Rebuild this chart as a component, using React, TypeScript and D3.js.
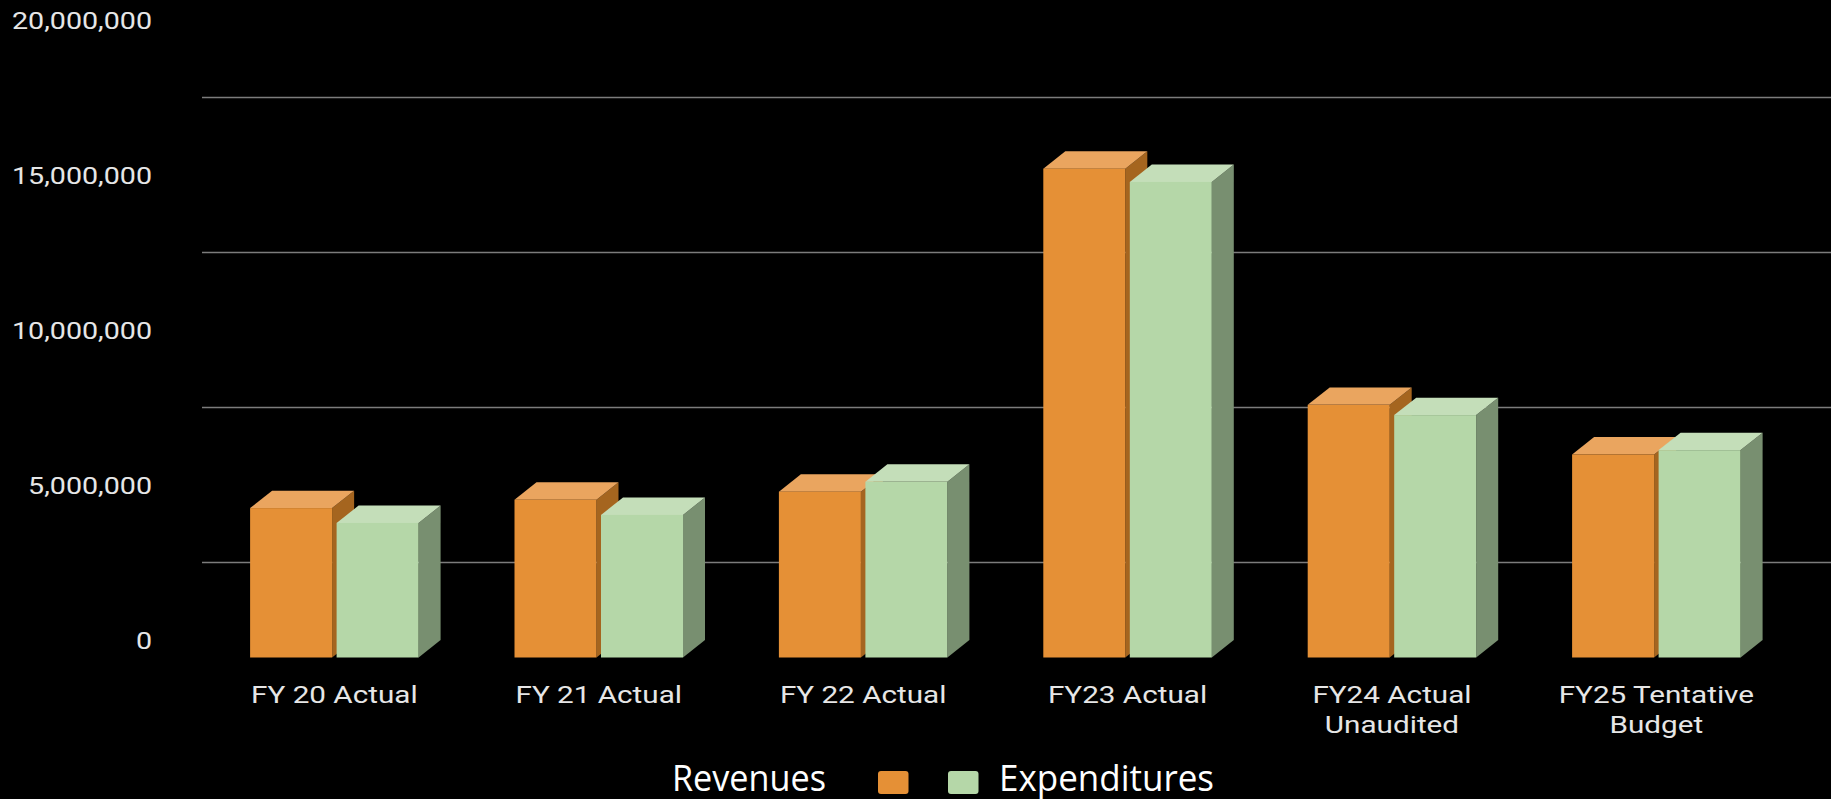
import React from "react";
import * as d3 from "d3";

const categories = [
  ["FY 20 Actual"],
  ["FY 21 Actual"],
  ["FY 22 Actual"],
  ["FY23 Actual"],
  ["FY24 Actual", "Unaudited"],
  ["FY25 Tentative", "Budget"],
];
const revenues = [4820000, 5090000, 5350000, 15770000, 8150000, 6550000];
const expenditures = [4340000, 4600000, 5670000, 15340000, 7820000, 6690000];
const yTicks = [0, 5000000, 10000000, 15000000, 20000000];
const gridValues = [2500000, 7500000, 12500000, 17500000];
const legendNames = ["Revenues", "Expenditures"];

const W = 1831;
const H = 799;
const DX = 22;
const DY = 17.4;
const BAR = 82;
const GAP = 4.5;
const FONT = "Roboto, sans-serif";

const y = d3.scaleLinear().domain([0, 20000000]).range([657.5, 37.5]);
const x = d3
  .scalePoint<number>()
  .domain(categories.map((_, i) => i))
  .range([1043.3 - 3 * 264.4, 1043.3 + 2 * 264.4]);
const fmt = d3.format(",");

const orange = { front: "#E59036", top: "#EAA55F", side: "#A5651F" };
const green = { front: "#B5D7A8", top: "#C4DEB9", side: "#788F70" };

function Bar({ left, value, c }: { left: number; value: number; c: typeof orange }) {
  const top = y(value);
  const base = y(0);
  const right = left + BAR;
  return (
    <g>
      <polygon
        fill={c.side}
        points={`${right},${top} ${right + DX},${top - DY} ${right + DX},${base - DY} ${right},${base}`}
      />
      <polygon
        fill={c.top}
        points={`${left},${top} ${left + DX},${top - DY} ${right + DX},${top - DY} ${right},${top}`}
      />
      <rect x={left} y={top} width={BAR} height={base - top} fill={c.front} />
    </g>
  );
}

function Label({ x: tx, y: ty, anchor, sx, children }: { x: number; y: number; anchor: string; sx: number; children: string }) {
  return (
    <text
      transform={`translate(${tx},${ty}) scale(${sx},1)`}
      textAnchor={anchor}
      fontFamily={FONT}
      fontSize={23}
      fill="#E6E6E6"
    >
      {children}
    </text>
  );
}

export default function App() {
  return (
    <svg
      width={W}
      height={H}
      viewBox={`0 0 ${W} ${H}`}
      style={{ position: "fixed", left: 0, top: 0, background: "#000", display: "block" }}
    >
      <rect width={W} height={H} fill="#000" />
      {gridValues.map((v) => (
        <line key={v} x1={202} x2={W} y1={y(v) - DY} y2={y(v) - DY} stroke="#7C7C7C" strokeWidth={1.5} />
      ))}
      {yTicks.map((v) => (
        <Label key={v} x={152} y={y(v) - DY + 8.5} anchor="end" sx={1.245}>
          {fmt(v)}
        </Label>
      ))}
      {categories.map((lines, i) => {
        const left = x(i) as number;
        return (
          <g key={i}>
            <Bar left={left} value={revenues[i]} c={orange} />
            <Bar left={left + BAR + GAP} value={expenditures[i]} c={green} />
            {lines.map((t, j) => (
              <Label key={t} x={left + BAR + GAP / 2} y={703 + j * 30} anchor="middle" sx={1.29}>
                {t}
              </Label>
            ))}
          </g>
        );
      })}
      <text
        x={672}
        y={791}
        fontFamily="'Open Sans', sans-serif"
        fontSize={37}
        fill="#fff"
        textLength={154}
        lengthAdjust="spacingAndGlyphs"
      >
        {legendNames[0]}
      </text>
      <rect x={878} y={771} width={30.5} height={23} rx={3} fill={orange.front} />
      <rect x={948} y={771} width={30.5} height={23} rx={3} fill={green.front} />
      <text
        x={999}
        y={791}
        fontFamily="'Open Sans', sans-serif"
        fontSize={37}
        fill="#fff"
        textLength={215}
        lengthAdjust="spacingAndGlyphs"
      >
        {legendNames[1]}
      </text>
    </svg>
  );
}
